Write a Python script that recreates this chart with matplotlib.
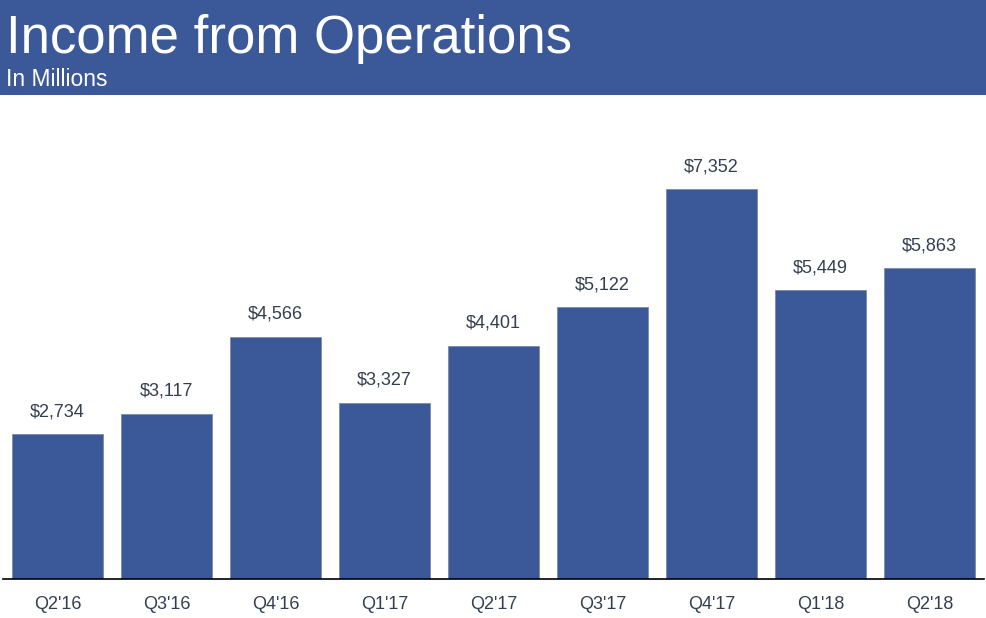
import matplotlib.pyplot as plt
from matplotlib.patches import Rectangle

# Quarterly income from operations, in millions of USD
quarters = ["Q2'16", "Q3'16", "Q4'16", "Q1'17", "Q2'17", "Q3'17", "Q4'17", "Q1'18", "Q2'18"]
income = [2734, 3117, 4566, 3327, 4401, 5122, 7352, 5449, 5863]

blue = '#3B5998'
text_color = '#333F50'
plt.rcParams['font.family'] = ['Liberation Sans', 'DejaVu Sans']

fig = plt.figure(figsize=(9.87, 6.18), dpi=100)

# Header band
fig.patches.append(Rectangle((0, 1 - 95 / 618), 1, 95 / 618, transform=fig.transFigure,
                             facecolor=blue, edgecolor='none', zorder=0))
fig.text(6 / 987, 1 - 53 / 618, "Income from Operations", color='white', fontsize=38,
         ha='left', va='baseline')
fig.text(6 / 987, 1 - 86 / 618, "In Millions", color='white', fontsize=16.5,
         ha='left', va='baseline')

ax = fig.add_axes([3 / 987, 1 - 579 / 618, 981 / 987, (579 - 154.6) / 618])
bars = ax.bar(range(len(quarters)), income, width=0.826, color=blue,
              edgecolor='#7F8BA6', linewidth=0.6)

for b, v in zip(bars, income):
    ax.annotate(f"${v:,}", (b.get_x() + b.get_width() / 2, v), xytext=(0, 10),
                textcoords='offset points', ha='center', va='bottom',
                fontsize=13, color=text_color)

ax.set_xlim(-0.5, len(quarters) - 0.5)
ax.set_ylim(0, 8000)
ax.set_xticks(range(len(quarters)))
ax.set_xticklabels(quarters, fontsize=13, color=text_color)
ax.tick_params(axis='x', length=0, pad=12)
ax.set_yticks([])
for side in ['top', 'right', 'left']:
    ax.spines[side].set_visible(False)
ax.spines['bottom'].set_color('black')
ax.spines['bottom'].set_linewidth(1.2)

fig.savefig('out.png', dpi=100)
